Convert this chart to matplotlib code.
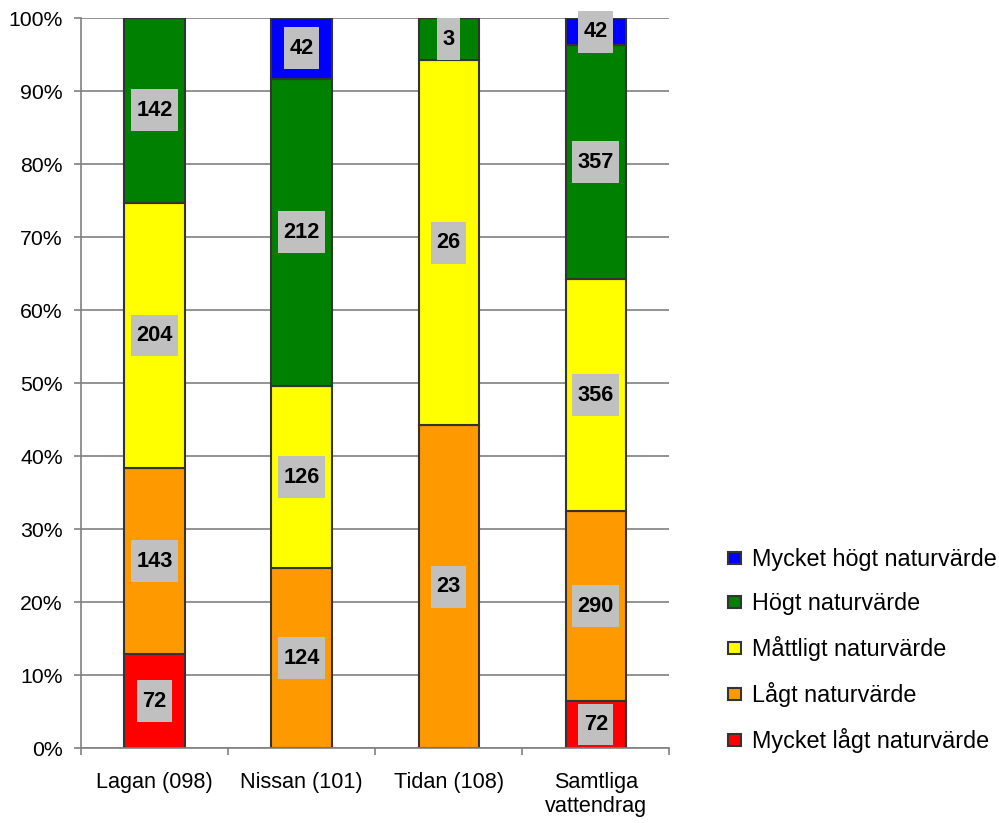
import matplotlib
matplotlib.use("Agg")
import matplotlib.pyplot as plt
from matplotlib.path import Path
import numpy as np

plt.rcParams['font.family'] = ['Liberation Sans', 'DejaVu Sans']

categories = ["Lagan (098)", "Nissan (101)", "Tidan (108)", "Samtliga\nvattendrag"]
series_names = ["Mycket lågt naturvärde", "Lågt naturvärde", "Måttligt naturvärde",
                "Högt naturvärde", "Mycket högt naturvärde"]
mycket_lagt = [72, 0, 0, 72]
lagt = [143, 124, 23, 290]
mattligt = [204, 126, 26, 356]
hogt = [142, 212, 3, 357]
mycket_hogt = [0, 42, 0, 42]
colors = ["#FF0000", "#FF9900", "#FFFF00", "#008000", "#0000FF"]

counts = np.array([mycket_lagt, lagt, mattligt, hogt, mycket_hogt], dtype=float)
totals = counts.sum(axis=0)
shares = counts / totals * 100


def label_box(x0, y0, width, height, mutation_size):
    """Rectangular label background, narrow at the sides and tall above/below."""
    px = 0.24 * mutation_size
    py = 0.48 * mutation_size
    x1, y1 = x0 - px, y0 - py
    x2, y2 = x0 + width + px, y0 + height + py
    return Path([(x1, y1), (x2, y1), (x2, y2), (x1, y2), (x1, y1)], closed=True)


fig = plt.figure(figsize=(9.99, 8.23), dpi=100)
ax = fig.add_axes([0.081, 0.0911, 0.589, 0.887])

x = np.arange(len(categories))
bottom = np.zeros(len(categories))
handles = []
for i, name in enumerate(series_names):
    bars = ax.bar(x, shares[i], 0.41, bottom=bottom, color=colors[i],
                  edgecolor="#333333", linewidth=1.5, label=name, zorder=2)
    handles.append(bars)
    for j in range(len(categories)):
        if counts[i, j] > 0:
            ax.text(x[j], bottom[j] + shares[i, j] / 2, f"{int(counts[i, j])}",
                    ha="center", va="center", fontsize=15.7, fontweight="bold",
                    color="black", zorder=5, clip_on=False,
                    bbox=dict(boxstyle=label_box, facecolor="#C0C0C0",
                              edgecolor="none"))
    bottom += shares[i]

ax.set_xlim(-0.5, len(categories) - 0.5)
ax.set_ylim(0, 100)
ax.set_yticks(np.arange(0, 101, 10))
ax.set_yticklabels([f"{v}%" for v in range(0, 101, 10)], fontsize=15.3)
ax.yaxis.grid(True, color="#808080", linewidth=1.2, zorder=0)
ax.set_axisbelow(True)

ax.set_xticks(x)
ax.set_xticklabels(categories, fontsize=15.6, linespacing=1.2)
ax.tick_params(axis="x", which="major", length=0, pad=17)
ax.set_xticks(np.arange(-0.5, len(categories), 1.0), minor=True)
ax.tick_params(axis="x", which="minor", length=5, color="#808080", width=1.2)
ax.tick_params(axis="y", length=5, color="#808080", width=1.2, pad=8)

for side in ["top", "right"]:
    ax.spines[side].set_visible(False)
for side in ["left", "bottom"]:
    ax.spines[side].set_color("#808080")
    ax.spines[side].set_linewidth(1.2)

leg = fig.legend(handles[::-1], series_names[::-1], loc="upper left",
                 bbox_to_anchor=(0.7287, 0.334), frameon=False, fontsize=16.8,
                 handlelength=0.55, handleheight=0.45, handletextpad=0.48,
                 labelspacing=0.9, borderaxespad=0, borderpad=0)

fig.savefig("out.png", dpi=100)
